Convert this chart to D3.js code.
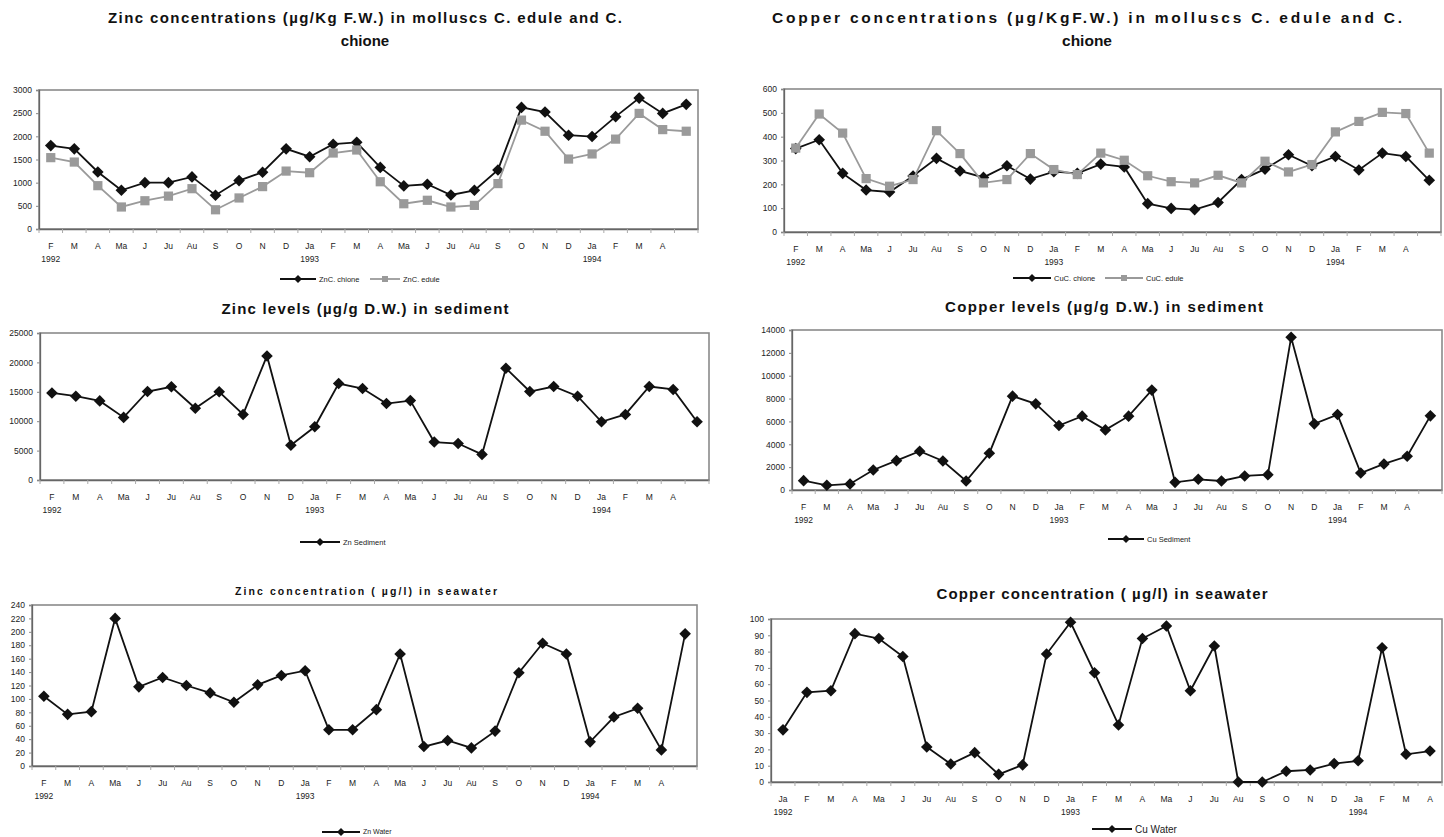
<!DOCTYPE html>
<html>
<head>
<meta charset="utf-8">
<script src="https://cdn.jsdelivr.net/npm/d3@7"></script>
<style>
  html, body { margin: 0; padding: 0; background: #fff; }
  svg { display: block; font-family: "Liberation Sans", Arial, sans-serif; }
</style>
</head>
<body>
<svg id="chart" width="1444" height="837"></svg>
<script>
// Month labels (series starting Feb 1992 / Jan 1992)
const monthsFeb = ["F","M","A","Ma","J","Ju","Au","S","O","N","D","Ja","F","M","A","Ma","J","Ju","Au","S","O","N","D","Ja","F","M","A",""];
const monthsJan = ["Ja","F","M","A","Ma","J","Ju","Au","S","O","N","D","Ja","F","M","A","Ma","J","Ju","Au","S","O","N","D","Ja","F","M","A"];
const yearsFeb = [[0, "1992"], [11, "1993"], [23, "1994"]];
const yearsJan = [[0, "1992"], [12, "1993"], [24, "1994"]];

// Zinc in molluscs (µg/Kg F.W.)
const znChione = [1800,1730,1230,835,1000,1000,1125,730,1045,1225,1730,1560,1830,1870,1330,930,965,735,835,1275,2625,2525,2025,1995,2425,2825,2495,2690];
const znEdule  = [1540,1445,935,475,610,710,870,415,670,915,1250,1215,1640,1705,1020,545,620,475,510,980,2350,2110,1510,1620,1940,2495,2145,2110];
const znMolluscTicks = [0,500,1000,1500,2000,2500,3000];

// Copper in molluscs (µg/Kg F.W.)
const cuChione = [350,387,246,176,168,235,309,256,229,278,222,253,246,285,273,119,99,94,124,220,264,324,278,317,260,331,317,217];
const cuEdule  = [352,495,415,224,192,220,425,329,206,220,329,262,241,331,301,236,211,206,238,206,297,252,283,420,464,502,497,331];
const cuMolluscTicks = [0,100,200,300,400,500,600];

// Sediment (µg/g D.W.)
const znSediment = [14800,14250,13450,10650,15050,15850,12200,15000,11150,21100,5900,9050,16400,15550,13000,13500,6450,6200,4350,19000,15050,15900,14250,9900,11150,15900,15400,9900];
const znSedimentTicks = [0,5000,10000,15000,20000,25000];
const cuSediment = [820,410,530,1750,2570,3390,2540,790,3220,8210,7540,5640,6460,5260,6460,8740,670,935,790,1230,1340,13360,5790,6600,1490,2280,2950,6490];
const cuSedimentTicks = [0,2000,4000,6000,8000,10000,12000,14000];

// Seawater (µg/l)
const znWater = [104,77,81,220,118,132,120,109,95,121,135,142,54,54,84,167,29,38,27,52,139,183,167,36,73,86,24,197];
const znWaterTicks = d3.range(0, 241, 20);
const cuWater = [32,55,56,91,88,77,21.5,11,18,4.7,10.5,78.5,98,67,35,88,95.7,56,83.4,0,0,6.6,7.4,11.3,13,82.4,17,19];
const cuWaterTicks = d3.range(0, 101, 10);

const BLACK = "#111";
const GREY = "#9a9a9a";

const svg = d3.select("#chart");

function diamond(g, cx, cy, r, fill) {
  g.append("path")
    .attr("d", `M${cx},${cy - r}L${cx + r},${cy}L${cx},${cy + r}L${cx - r},${cy}Z`)
    .attr("fill", fill);
}
function square(g, cx, cy, r, fill) {
  g.append("rect")
    .attr("x", cx - r).attr("y", cy - r)
    .attr("width", 2 * r).attr("height", 2 * r)
    .attr("fill", fill);
}

function drawPanel(p) {
  const g = svg.append("g");
  const x = d3.scaleBand().domain(d3.range(p.labels.length)).range([p.left, p.right]).paddingInner(0);
  const y = d3.scaleLinear().domain([0, d3.max(p.ticks)]).range([p.bottom, p.top]);

  // plot-area frame
  g.append("rect")
    .attr("x", p.left).attr("y", p.top)
    .attr("width", p.right - p.left).attr("height", p.bottom - p.top)
    .attr("fill", "none").attr("stroke", "#8a8a8a").attr("stroke-width", 1.6);

  // y axis
  const ya = g.append("g").attr("transform", `translate(${p.left},0)`)
    .call(d3.axisLeft(y).tickValues(p.ticks).tickFormat(d3.format("d")).tickSize(3).tickPadding(4));
  ya.select(".domain").attr("stroke", "#666").attr("stroke-width", 1.3);
  ya.selectAll(".tick line").attr("stroke", "#888");
  ya.selectAll("text").attr("font-size", 8.5).attr("fill", "#222")
    .attr("font-family", "Liberation Sans, Arial, sans-serif");

  // x axis: line, boundary ticks, month labels
  const xa = g.append("g").attr("transform", `translate(0,${p.bottom})`)
    .call(d3.axisBottom(x).tickSize(0).tickPadding(14).tickFormat(i => p.labels[i]));
  xa.select(".domain").attr("stroke", "#666").attr("stroke-width", 1.3);
  xa.selectAll("text").attr("font-size", 8.5).attr("fill", "#222")
    .attr("font-family", "Liberation Sans, Arial, sans-serif");
  g.append("g").selectAll("line")
    .data(d3.range(p.labels.length + 1))
    .join("line")
    .attr("x1", i => p.left + i * x.step()).attr("x2", i => p.left + i * x.step())
    .attr("y1", p.bottom).attr("y2", p.bottom + 4)
    .attr("stroke", "#aaa").attr("stroke-width", 1);

  // year labels
  g.append("g").selectAll("text")
    .data(p.years)
    .join("text")
    .attr("x", d => x(d[0]) + x.bandwidth() / 2)
    .attr("y", p.bottom + 33)
    .attr("text-anchor", "middle")
    .attr("font-size", 8.5).attr("fill", "#222")
    .text(d => d[1]);

  // series
  p.series.forEach(s => {
    const line = d3.line().x((d, i) => x(i) + x.bandwidth() / 2).y(d => y(d));
    g.append("path").datum(s.values)
      .attr("d", line).attr("fill", "none")
      .attr("stroke", s.color).attr("stroke-width", 1.8);
    const mg = g.append("g");
    s.values.forEach((v, i) => {
      const cx = x(i) + x.bandwidth() / 2, cy = y(v);
      if (s.marker === "diamond") diamond(mg, cx, cy, 5.8, s.color);
      else square(mg, cx, cy, 4.6, s.color);
    });
  });

  // titles
  p.title.forEach(t => {
    const tx = g.append("text")
      .attr("x", t.x).attr("y", t.y)
      .attr("text-anchor", "middle")
      .attr("font-weight", "bold")
      .attr("font-size", t.size)
      .attr("fill", "#111")
      .text(t.text);
    if (t.width) tx.attr("textLength", t.width).attr("lengthAdjust", "spacing");
  });

  // legend
  p.legend.forEach(l => {
    g.append("line")
      .attr("x1", l.x).attr("x2", l.x + l.len)
      .attr("y1", l.y).attr("y2", l.y)
      .attr("stroke", l.color).attr("stroke-width", 1.8);
    if (l.marker === "diamond") diamond(g, l.x + l.len / 2, l.y, 4, l.color);
    else square(g, l.x + l.len / 2, l.y, 3, l.color);
    g.append("text")
      .attr("x", l.x + l.len + 3).attr("y", l.y + l.size * 0.35)
      .attr("font-size", l.size).attr("fill", "#222")
      .text(l.text);
  });
}

drawPanel({
  left: 39, top: 90, right: 698, bottom: 229,
  labels: monthsFeb, years: yearsFeb, ticks: znMolluscTicks,
  series: [
    { values: znChione, color: BLACK, marker: "diamond" },
    { values: znEdule, color: GREY, marker: "square" }
  ],
  title: [
    { text: "Zinc concentrations (µg/Kg F.W.) in molluscs C. edule and  C.", x: 365, y: 23, size: 15, width: 514 },
    { text: "chione", x: 365, y: 46, size: 15 }
  ],
  legend: [
    { x: 280, y: 279, len: 36, color: BLACK, marker: "diamond", text: "ZnC. chione", size: 7.5 },
    { x: 370, y: 279, len: 30, color: GREY, marker: "square", text: "ZnC. edule", size: 7.5 }
  ]
});

drawPanel({
  left: 784, top: 89, right: 1441, bottom: 232,
  labels: monthsFeb, years: yearsFeb, ticks: cuMolluscTicks,
  series: [
    { values: cuChione, color: BLACK, marker: "diamond" },
    { values: cuEdule, color: GREY, marker: "square" }
  ],
  title: [
    { text: "Copper concentrations (µg/KgF.W.) in molluscs C. edule and  C.", x: 1087, y: 23, size: 15.5, width: 630 },
    { text: "chione", x: 1087, y: 46, size: 15.5 }
  ],
  legend: [
    { x: 1013, y: 278, len: 38, color: BLACK, marker: "diamond", text: "CuC. chione", size: 7.5 },
    { x: 1105, y: 278, len: 38, color: GREY, marker: "square", text: "CuC. edule", size: 7.5 }
  ]
});

drawPanel({
  left: 40, top: 333, right: 709, bottom: 480,
  labels: monthsFeb, years: yearsFeb, ticks: znSedimentTicks,
  series: [{ values: znSediment, color: BLACK, marker: "diamond" }],
  title: [{ text: "Zinc levels (µg/g D.W.) in sediment", x: 365, y: 314, size: 15, width: 287 }],
  legend: [{ x: 300, y: 542, len: 40, color: BLACK, marker: "diamond", text: "Zn Sediment", size: 7.5 }]
});

drawPanel({
  left: 792, top: 330, right: 1442, bottom: 490,
  labels: monthsFeb, years: yearsFeb, ticks: cuSedimentTicks,
  series: [{ values: cuSediment, color: BLACK, marker: "diamond" }],
  title: [{ text: "Copper levels (µg/g D.W.) in sediment", x: 1104, y: 312, size: 15, width: 318 }],
  legend: [{ x: 1108, y: 539, len: 36, color: BLACK, marker: "diamond", text: "Cu Sediment", size: 7.5 }]
});

drawPanel({
  left: 32, top: 605, right: 697, bottom: 766,
  labels: monthsFeb, years: yearsFeb, ticks: znWaterTicks,
  series: [{ values: znWater, color: BLACK, marker: "diamond" }],
  title: [{ text: "Zinc concentration ( µg/l) in seawater", x: 366, y: 595, size: 10.5, width: 262 }],
  legend: [{ x: 322, y: 832, len: 38, color: BLACK, marker: "diamond", text: "Zn Water", size: 7 }]
});

drawPanel({
  left: 771, top: 619, right: 1442, bottom: 782,
  labels: monthsJan, years: yearsJan, ticks: cuWaterTicks,
  series: [{ values: cuWater, color: BLACK, marker: "diamond" }],
  title: [{ text: "Copper concentration ( µg/l) in seawater", x: 1102, y: 599, size: 15, width: 331 }],
  legend: [{ x: 1092, y: 829, len: 40, color: BLACK, marker: "diamond", text: "Cu Water", size: 10 }]
});
</script>
</body>
</html>
